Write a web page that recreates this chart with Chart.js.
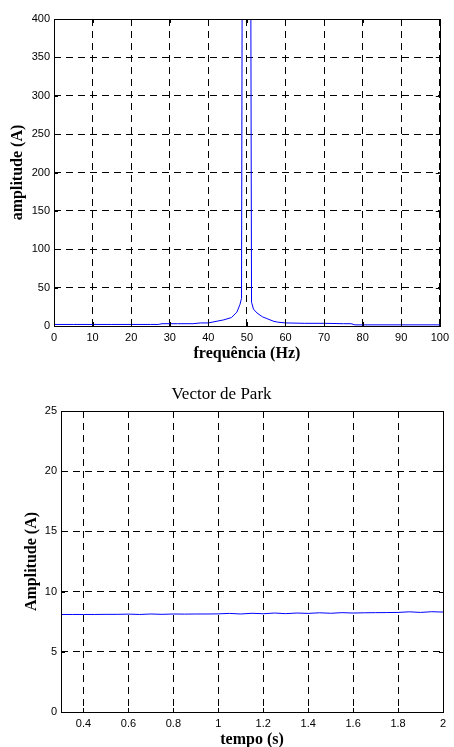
<!DOCTYPE html>
<html>
<head>
<meta charset="utf-8">
<script src="https://cdn.jsdelivr.net/npm/chart.js@4/dist/chart.umd.min.js"></script>
<style>
  body { margin: 0; background: #fff; }
  canvas { display: block; }
</style>
</head>
<body>
<canvas id="espectro" width="454" height="370"></canvas>
<canvas id="park" width="454" height="377"></canvas>
<script>
// espectro da corrente (Hz, A)
const frequencias = [0, 5, 10, 15, 20, 25, 27, 28, 32, 36, 38, 40, 42, 44, 46, 47.4, 48.2, 48.6, 49, 50, 50.5, 51.2, 51.7, 52.6, 54, 55, 57, 58, 60, 65, 70, 75, 77, 78, 80, 90, 100];
const amplitudes = [2, 2, 2, 2, 2, 2, 2, 3, 3, 3, 4, 4, 6, 8, 11, 18, 28, 36, 1000, 3000, 1500, 31, 22, 17, 12, 10, 6, 5, 4, 3.5, 3.5, 3, 3, 1.5, 1.5, 1.5, 1.5];
const ticksFreq = [0, 10, 20, 30, 40, 50, 60, 70, 80, 90, 100];
const ticksAmp = [0, 50, 100, 150, 200, 250, 300, 350, 400];

// vector de Park (s, A)
const tempo = [0.3, 0.35, 0.4, 0.45, 0.5, 0.55, 0.6, 0.65, 0.7, 0.75, 0.8, 0.85, 0.9, 0.95, 1.0, 1.05, 1.1, 1.15, 1.2, 1.25, 1.3, 1.35, 1.4, 1.45, 1.5, 1.55, 1.6, 1.65, 1.7, 1.75, 1.8, 1.85, 1.9, 1.95, 2.0];
const parkAmp = [8.10, 8.10, 8.10, 8.10, 8.11, 8.11, 8.13, 8.10, 8.14, 8.11, 8.14, 8.13, 8.14, 8.14, 8.15, 8.19, 8.14, 8.20, 8.16, 8.22, 8.17, 8.22, 8.19, 8.24, 8.20, 8.25, 8.22, 8.24, 8.25, 8.26, 8.27, 8.32, 8.27, 8.33, 8.30];
const ticksTempo = [0.4, 0.6, 0.8, 1, 1.2, 1.4, 1.6, 1.8, 2];
const ticksPark = [0, 5, 10, 15, 20, 25];

const fonteTicks = { family: "'Liberation Sans', Arial, sans-serif", size: 11 };
const fonteTitulo = { family: "'Liberation Serif', 'Times New Roman', serif", size: 16, weight: "bold" };

// caixa estilo MATLAB com marcas para dentro
const caixa = {
    id: "caixa",
    afterDraw(chart) {
        const { ctx, chartArea: a } = chart;
        const x = chart.scales.x, y = chart.scales.y;
        ctx.save();
        ctx.strokeStyle = "#000";
        ctx.lineWidth = 1;
        ctx.setLineDash([]);
        ctx.beginPath();
        x.ticks.forEach(t => {
            const px = Math.round(x.getPixelForValue(t.value)) + 0.5;
            ctx.moveTo(px, a.bottom); ctx.lineTo(px, a.bottom - 4);
            ctx.moveTo(px, a.top); ctx.lineTo(px, a.top + 4);
        });
        y.ticks.forEach(t => {
            const py = Math.round(y.getPixelForValue(t.value)) + 0.5;
            ctx.moveTo(a.left, py); ctx.lineTo(a.left + 4, py);
            ctx.moveTo(a.right, py); ctx.lineTo(a.right - 4, py);
        });
        ctx.stroke();
        ctx.strokeRect(Math.round(a.left) + 0.5, Math.round(a.top) + 0.5,
            Math.round(a.right - a.left), Math.round(a.bottom - a.top));
        ctx.restore();
    }
};

function grelha() {
    return { color: "#000", lineWidth: 1, drawTicks: false };
}
// em v4 o tracejado das linhas da grelha vem de border.dash
const borda = { display: false, dash: [7, 5] };

function pares(xs, ys) {
    return xs.map((v, i) => ({ x: v, y: ys[i] }));
}

// gráfica 1: espectro
new Chart(document.getElementById("espectro"), {
    type: "line",
    data: {
        datasets: [{
            data: pares(frequencias, amplitudes),
            borderColor: "#0000ff",
            borderWidth: 1,
            pointRadius: 0,
            tension: 0,
        }],
    },
    options: {
        responsive: false,
        animation: false,
        layout: { padding: { top: 19, right: 11, left: 0, bottom: 0 } },
        plugins: { legend: { display: false }, tooltip: { enabled: false } },
        scales: {
            x: {
                type: "linear",
                min: 0, max: 100,
                afterFit: s => { s.height = 44; },
                afterBuildTicks: s => { s.ticks = ticksFreq.map(v => ({ value: v })); },
                grid: grelha(),
                border: borda,
                ticks: { color: "#000", font: fonteTicks, padding: 5, maxRotation: 0 },
                title: { display: true, text: "frequência (Hz)", color: "#000", font: fonteTitulo, padding: { top: 0, bottom: 6.4 } },
            },
            y: {
                min: 0, max: 400,
                afterFit: s => { s.width = 54; },
                afterBuildTicks: s => { s.ticks = ticksAmp.map(v => ({ value: v })); },
                grid: grelha(),
                border: borda,
                ticks: { color: "#000", font: fonteTicks, padding: 4 },
                title: { display: true, text: "amplitude (A)", color: "#000", font: fonteTitulo, padding: { top: 8.4, bottom: 0 } },
            },
        },
    },
    plugins: [caixa],
});

// gráfica 2: vector de Park
new Chart(document.getElementById("park"), {
    type: "line",
    data: {
        datasets: [{
            data: pares(tempo, parkAmp),
            borderColor: "#0000ff",
            borderWidth: 1,
            pointRadius: 0,
            tension: 0,
        }],
    },
    options: {
        responsive: false,
        animation: false,
        layout: { padding: { top: 0, right: 11, left: 0, bottom: 0 } },
        plugins: {
            legend: { display: false },
            tooltip: { enabled: false },
            title: {
                display: true,
                text: "Vector de Park",
                color: "#000",
                font: { family: "'Liberation Serif', 'Times New Roman', serif", size: 17, weight: "normal" },
                padding: { top: 14.8, bottom: 5.8 },
            },
        },
        scales: {
            x: {
                type: "linear",
                min: 0.3, max: 2,
                afterFit: s => { s.height = 35; },
                afterBuildTicks: s => { s.ticks = ticksTempo.map(v => ({ value: v })); },
                grid: grelha(),
                border: borda,
                ticks: { color: "#000", font: fonteTicks, padding: 5, maxRotation: 0, callback: v => String(+v.toFixed(1)) },
                title: { display: true, text: "tempo (s)", color: "#000", font: fonteTitulo, padding: { top: 0, bottom: -2.6 } },
            },
            y: {
                min: 0, max: 25,
                afterFit: s => { s.width = 61; },
                afterBuildTicks: s => { s.ticks = ticksPark.map(v => ({ value: v })); },
                grid: grelha(),
                border: borda,
                ticks: { color: "#000", font: fonteTicks, padding: 4 },
                title: { display: true, text: "Amplitude (A)", color: "#000", font: fonteTitulo, padding: { top: 22.4, bottom: 0 } },
            },
        },
    },
    plugins: [caixa],
});
</script>
</body>
</html>
